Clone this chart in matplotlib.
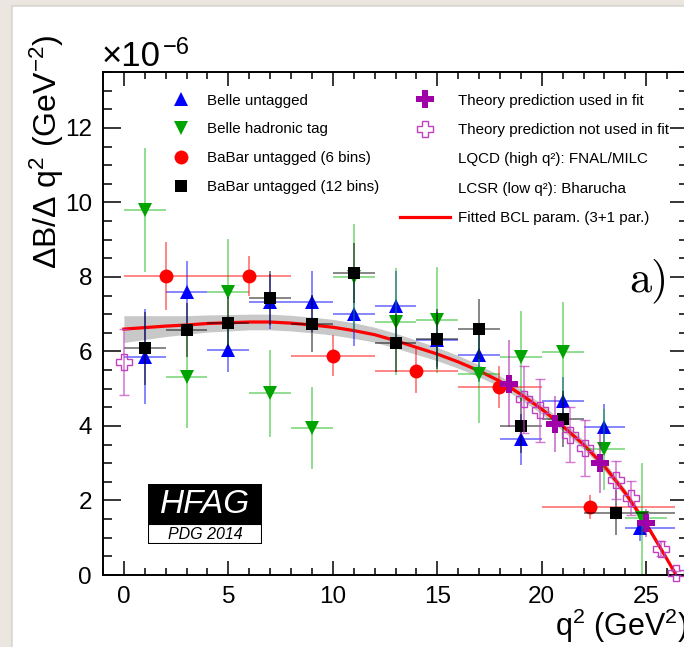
import numpy as np
import matplotlib.pyplot as plt
from matplotlib.lines import Line2D
from matplotlib.patches import Rectangle
from matplotlib.ticker import MultipleLocator

plt.rcParams['font.family'] = ['Liberation Sans', 'DejaVu Sans']
plt.rcParams['mathtext.fontset'] = 'custom'
plt.rcParams['mathtext.rm'] = 'Liberation Sans'
plt.rcParams['mathtext.it'] = 'Liberation Sans:italic'
plt.rcParams['mathtext.default'] = 'regular'

# dB/dq2 in units of 1e-6 GeV^-2, q2 in GeV^2
belle_u_q2 = [1, 3, 5, 7, 9, 11, 13, 15, 17, 19, 21, 23, 24.7]
belle_u_lo = [0, 2, 4, 6, 8, 10, 12, 14, 16, 18, 20, 22, 24]
belle_u_hi = [2, 4, 6, 8, 10, 12, 14, 16, 18, 20, 22, 24, 26.4]
belle_u_val = [5.86, 7.60, 6.04, 7.34, 7.34, 7.00, 7.22, 6.32, 5.90, 3.64, 4.68, 3.96, 1.27]
belle_u_err = [1.28, 0.83, 0.60, 0.74, 0.83, 0.85, 0.95, 0.75, 0.71, 0.69, 0.64, 0.63, 0.35]

belle_t_q2 = [1, 3, 5, 7, 9, 11, 13, 15, 17, 19, 21, 23, 24.8]
belle_t_lo = [0, 2, 4, 6, 8, 10, 12, 14, 16, 18, 20, 22, 24]
belle_t_hi = [2, 4, 6, 8, 10, 12, 14, 16, 18, 20, 22, 24, 26]
belle_t_val = [9.80, 5.32, 7.59, 4.88, 3.94, 7.99, 6.80, 6.84, 5.39, 5.86, 5.99, 3.37, 1.52]
belle_t_err = [1.66, 1.37, 1.42, 1.17, 1.10, 1.43, 1.43, 1.43, 1.30, 1.23, 1.35, 1.08, 1.48]

babar6_q2 = [2, 6, 10, 14, 17.95, 22.3]
babar6_lo = [0, 4, 8, 12, 16, 20]
babar6_hi = [4, 8, 12, 16, 20, 26.4]
babar6_val = [8.02, 8.02, 5.88, 5.48, 5.05, 1.83]
babar6_err = [0.92, 0.53, 0.55, 0.60, 0.57, 0.33]

babar12_q2 = [1, 3, 5, 7, 9, 11, 13, 15, 17, 19, 21, 23.54]
babar12_lo = [0, 2, 4, 6, 8, 10, 12, 14, 16, 18, 20, 22]
babar12_hi = [2, 4, 6, 8, 10, 12, 14, 16, 18, 20, 22, 26.4]
babar12_val = [6.08, 6.58, 6.77, 7.43, 6.75, 8.10, 6.22, 6.33, 6.60, 4.01, 4.19, 1.67]
babar12_err = [0.98, 0.72, 0.70, 0.72, 0.77, 0.80, 0.78, 0.80, 0.80, 0.73, 0.75, 0.60]

th_used_q2 = [18.44, 20.63, 22.81, 24.99]
th_used_val = [5.13, 4.05, 3.00, 1.40]
th_used_err = [1.17, 0.76, 0.80, 0.38]

th_free_q2 = [0.0, 19.17, 19.90, 21.35, 22.08, 23.54, 24.26, 25.72, 26.44]
th_free_val = [5.71, 4.72, 4.42, 3.76, 3.40, 2.55, 2.06, 0.70, 0.05]
th_free_err = [0.89, 0.90, 0.85, 0.74, 0.75, 0.50, 0.45, 0.20, 0.05]

fit_q2 = [0, 1, 2, 3, 4, 5, 6, 7, 8, 9, 10, 11, 12, 13, 14, 15, 16, 17, 18,
          19, 20, 21, 22, 23, 24, 25, 26, 26.4]
fit_val = [6.60, 6.64, 6.68, 6.71, 6.75, 6.77, 6.79, 6.79, 6.76, 6.71, 6.65,
           6.56, 6.45, 6.29, 6.11, 5.93, 5.72, 5.48, 5.20, 4.85, 4.45, 4.00,
           3.50, 2.92, 2.20, 1.37, 0.42, 0.03]
fit_band = [0.36, 0.32, 0.28, 0.25, 0.23, 0.22, 0.21, 0.21, 0.21, 0.21, 0.21,
            0.21, 0.20, 0.20, 0.19, 0.18, 0.17, 0.16, 0.15, 0.14, 0.13, 0.13,
            0.12, 0.12, 0.11, 0.09, 0.06, 0.04]

W, H = 684, 647
fig = plt.figure(figsize=(W / 100, H / 100), dpi=100)
fig.patch.set_facecolor('#ebe6df')
fig.add_artist(Rectangle((11 / W, 0), 1, (H - 5) / H, transform=fig.transFigure,
                         color='#dcd7d0', zorder=0))
fig.add_artist(Rectangle((13 / W, 0), 1, (H - 7) / H, transform=fig.transFigure,
                         color='white', zorder=0))

ax = fig.add_axes([103 / W, 1 - 575 / H, 585 / W, 503 / H])
ax.set_xlim(-1, 27)
ax.set_ylim(0, 13.5)

# fit band and curve
fq = np.array(fit_q2)
fv = np.array(fit_val)
fb = np.array(fit_band)
ax.fill_between(fq, fv - fb, fv + fb, color='#c8c8c8', lw=0, zorder=1)
ax.plot(fq, fv, color='red', lw=2.3, zorder=2)


def draw(q2, lo, hi, val, err, color, ecolor, marker, ms, z):
    q2 = np.array(q2)
    xerr = [q2 - np.array(lo), np.array(hi) - q2]
    ax.errorbar(q2, val, yerr=err, xerr=xerr, fmt=marker, color=color, ms=ms,
                ecolor=ecolor, elinewidth=1.1, capsize=3.5, capthick=1.1,
                mew=0, zorder=z)


draw(belle_u_q2, belle_u_lo, belle_u_hi, belle_u_val, belle_u_err,
     '#0000ff', (0, 0, 1, 0.6), '^', 10, 3)
draw(belle_t_q2, belle_t_lo, belle_t_hi, belle_t_val, belle_t_err,
     '#00a400', (0, 0.7, 0, 0.55), 'v', 10, 4)
draw(babar6_q2, babar6_lo, babar6_hi, babar6_val, babar6_err,
     '#ff0000', (1, 0, 0, 0.6), 'o', 10, 5)
draw(babar12_q2, babar12_lo, babar12_hi, babar12_val, babar12_err,
     '#000000', (0, 0, 0, 0.6), 's', 8, 6)

ax.errorbar(th_free_q2, th_free_val, yerr=th_free_err, fmt='P', ms=11,
            mfc='none', mec='#c040c0', mew=1.0, ecolor=(0.75, 0.25, 0.75, 0.7),
            elinewidth=1.1, capsize=3.5, capthick=1.1, zorder=7, clip_on=False)
ax.errorbar(th_used_q2, th_used_val, yerr=th_used_err, fmt='P', ms=13,
            color='#a000a8', mew=0, ecolor=(0.65, 0, 0.65, 0.6),
            elinewidth=1.1, capsize=3.5, capthick=1.1, zorder=8)

# axes style (ROOT-like)
ax.xaxis.set_major_locator(MultipleLocator(5))
ax.xaxis.set_minor_locator(MultipleLocator(1))
ax.yaxis.set_major_locator(MultipleLocator(2))
ax.yaxis.set_minor_locator(MultipleLocator(0.5))
ax.tick_params(which='both', direction='in', top=True, right=True, width=1.1,
               labelsize=17.5)
ax.tick_params(axis='x', which='major', length=10, pad=8)
ax.tick_params(axis='x', which='minor', length=5)
ax.tick_params(axis='y', which='major', length=13, pad=8)
ax.tick_params(axis='y', which='minor', length=6.5)
for s in ax.spines.values():
    s.set_linewidth(1.4)

ax.text(1.0, -0.122, 'q$^{2}$ (GeV$^{2}$)', transform=ax.transAxes,
        ha='right', va='baseline', fontsize=22)
fig.text(47 / W, 1 - 35 / H, '\u0394B/\u0394 q$^{2}$ (GeV$^{-2}$)',
         rotation=90, ha='center', va='top', fontsize=23)
fig.text(102 / W, 1 - 66 / H, '\u00d710', fontsize=25, va='baseline')
fig.text(163 / W, 1 - 54 / H, '\u22126', fontsize=17, va='baseline')
fig.text(629 / W, 1 - 281 / H, 'a)', fontfamily='cmr10', fontsize=32,
         va='center')

# legends
fs_leg = 10.9
h1 = [Line2D([], [], ls='none', marker='^', ms=10, color='#0000ff', mew=0),
      Line2D([], [], ls='none', marker='v', ms=10, color='#00a400', mew=0),
      Line2D([], [], ls='none', marker='o', ms=10, color='#ff0000', mew=0),
      Line2D([], [], ls='none', marker='s', ms=8, color='#000000', mew=0)]
l1 = ['Belle untagged', 'Belle hadronic tag', 'BaBar untagged (6 bins)',
      'BaBar untagged (12 bins)']
leg1 = fig.legend(h1, l1, loc='upper left', bbox_to_anchor=(173 / W, 1 - 93.5 / H),
                  frameon=False, fontsize=fs_leg, handlelength=1.0,
                  handletextpad=1.22, labelspacing=0.98,
                  borderpad=0, borderaxespad=0)
h2 = [Line2D([], [], ls='none', marker='P', ms=13, color='#a000a8', mew=0),
      Line2D([], [], ls='none', marker='P', ms=11, mfc='none', mec='#c040c0',
             mew=1.0),
      Line2D([], [], ls='none'),
      Line2D([], [], ls='none'),
      Line2D([], [], color='red', lw=2.3)]
l2 = ['Theory prediction used in fit', 'Theory prediction not used in fit',
      'LQCD (high q\u00b2): FNAL/MILC', 'LCSR (low q\u00b2): Bharucha',
      'Fitted BCL param. (3+1 par.)']
leg2 = fig.legend(h2, l2, loc='upper left', bbox_to_anchor=(400 / W, 1 - 93.5 / H),
                  frameon=False, fontsize=fs_leg, handlelength=3.3,
                  handletextpad=0.53, labelspacing=1.02,
                  borderpad=0, borderaxespad=0)

# HFAG logo
lg = fig.add_axes([148 / W, 1 - 544 / H, 114 / W, 60 / H])
lg.set_xlim(0, 1)
lg.set_ylim(0, 1)
lg.axis('off')
lg.add_patch(Rectangle((0, 20 / 60), 1, 40 / 60, facecolor='black',
                       edgecolor='black', lw=1.2))
lg.add_patch(Rectangle((0, 0), 1, 20 / 60, facecolor='white',
                       edgecolor='black', lw=1.5))
lg.text(0.5, 0.655, 'HFAG', color='white', style='italic', fontsize=24,
        ha='center', va='center')
lg.text(0.5, 0.16, 'PDG 2014', style='italic', fontsize=11.5, ha='center',
        va='center')

fig.savefig('out.png', dpi=100, facecolor=fig.get_facecolor())
